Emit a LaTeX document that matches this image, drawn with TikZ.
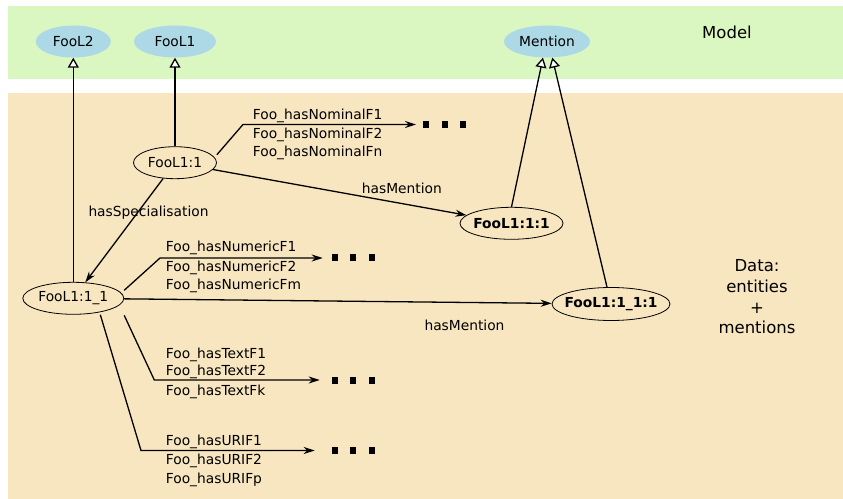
\documentclass[tikz,border=0pt]{standalone}
\usepackage{fontspec}
\setmainfont{DejaVu Sans}
\usetikzlibrary{shapes.geometric,arrows.meta}
\definecolor{modelgreen}{RGB}{218,247,193}
\definecolor{datapeach}{RGB}{247,230,192}
\definecolor{classblue}{RGB}{173,216,230}
\newcommand{\diafont}{\fontsize{13.8bp}{19bp}\selectfont}
\newcommand{\dotrow}{\rule{6bp}{7bp}\hspace{12.5bp}\rule{6bp}{7bp}\hspace{12.5bp}\rule{6bp}{7bp}}

\begin{document}
\begin{tikzpicture}[x=1bp,y=-1bp,
  every node/.style={font=\diafont},
  class/.style={ellipse, fill=classblue, inner sep=0pt, minimum height=32bp},
  inst/.style={ellipse, draw, line width=0.8bp, inner sep=0pt, minimum height=32bp},
  isa/.style={line width=1.3bp, -{Triangle[open,fill=white,width=11bp,length=10bp]}},
  rel/.style={line width=1.3bp, -{Stealth[length=11bp,width=7bp]}},
  lbl/.style={anchor=base west, inner sep=0pt},
  dotsrow/.style={anchor=west, inner sep=0pt}]
\useasboundingbox (0,0) rectangle (843,499);

% Layers
\fill[modelgreen] (8,6) rectangle (843,79);
\fill[datapeach] (8,93) rectangle (843,499);

% Model classes
\node[class, minimum width=75bp] (lvltwo) at (73.3,41.5) {FooL2};
\node[class, minimum width=82bp] (lvlone) at (175,41.5) {FooL1};
\node[class, minimum width=86bp] (mention) at (547,41.5) {Mention};
\node[lbl, font=\fontsize{16.5bp}{20bp}\selectfont] (modeltitle) at (702,38.3) {Model};

% Data instances
\node[inst, minimum width=83bp] (ent) at (175,162.7) {FooL1:1};
\node[inst, minimum width=101bp] (subent) at (73.3,298.3) {FooL1:1\_1};
\node[inst, minimum width=103bp, inner xsep=-2.5bp, font=\diafont\bfseries] (entment) at (511.5,223.3) {FooL1:1:1};
\node[inst, minimum width=118bp, minimum height=33bp, inner xsep=-6bp, font=\diafont\bfseries] (subentment) at (611,304) {FooL1:1\_1:1};
\node[align=center, anchor=north, inner sep=0pt, font=\fontsize{16.5bp}{20.7bp}\selectfont] (datatitle) at (757,259.5) {Data:\\entities\\+\\mentions};

% Instance of
\draw[isa] (subent.north) -- (lvltwo.south);
\draw[isa] (ent.north) -- (lvlone.south);
\draw[isa] (entment.north) -- (mention.-104);
\draw[isa] ([xshift=-4bp]subentment.north) -- (mention.-72);

% Relations between instances
\draw[rel] (ent) -- (subent);
\draw[rel] (ent) -- (entment);
\draw[rel] (subent) -- (subentment);
\node[lbl] (specl) at (88.3,216.7) {hasSpecialisation};
\node[lbl] (mentl) at (361.7,193.3) {hasMention};
\node[lbl] (mentlb) at (424.3,331) {hasMention};

% Nominal features
\coordinate (bendnom) at (243,124.5);
\node[dotsrow] (dotsnom) at (423,124.5) {\dotrow};
\draw[rel, shorten >=7bp] ([yshift=8bp]ent.east) -- (bendnom) -- (dotsnom.west);
\node[lbl] (nomone) at (252.7,120) {Foo\_hasNominalF1};
\node[lbl] (nomtwo) at (252.7,138.3) {Foo\_hasNominalF2};
\node[lbl] (nomn) at (252.7,156.7) {Foo\_hasNominalFn};

% Numeric features
\coordinate (bendnum) at (160,258);
\node[dotsrow] (dotsnum) at (331.7,258) {\dotrow};
\draw[rel, shorten >=9bp] ([yshift=8bp]subent.east) -- (bendnum) -- (dotsnum.west);
\node[lbl] (numone) at (165.7,252) {Foo\_hasNumericF1};
\node[lbl] (numtwo) at (165.7,271.7) {Foo\_hasNumericF2};
\node[lbl] (numm) at (165.7,290) {Foo\_hasNumericFm};

% Text features
\coordinate (bendtxt) at (154.3,380);
\node[dotsrow] (dotstxt) at (331.7,380) {\dotrow};
\draw[rel, shorten >=12bp] ([yshift=-17bp]subent.east) -- (bendtxt) -- (dotstxt.west);
\node[lbl] (txtone) at (165.7,358.3) {Foo\_hasTextF1};
\node[lbl] (txttwo) at (165.7,375) {Foo\_hasTextF2};
\node[lbl] (txtk) at (165.7,395.7) {Foo\_hasTextFk};

% URI features
\coordinate (benduri) at (141,450.5);
\node[dotsrow] (dotsuri) at (331.7,450.5) {\dotrow};
\draw[rel, shorten >=17bp] ([xshift=27bp]subent.south) -- (benduri) -- (dotsuri.west);
\node[lbl] (urione) at (165.7,445) {Foo\_hasURIF1};
\node[lbl] (uritwo) at (165.7,464) {Foo\_hasURIF2};
\node[lbl] (urip) at (165.7,483.3) {Foo\_hasURIFp};
\end{tikzpicture}
\end{document}
